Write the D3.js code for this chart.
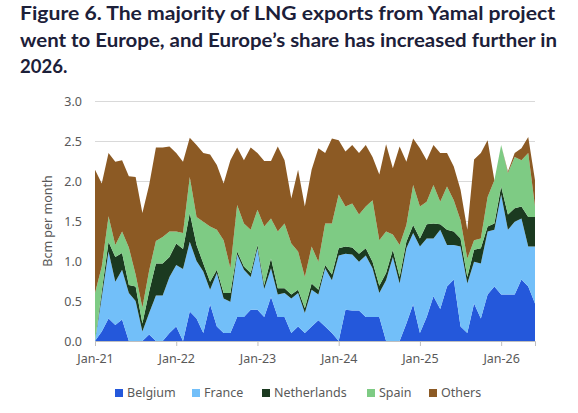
<!DOCTYPE html>
<html>
<head>
<meta charset="utf-8">
<script src="https://cdn.jsdelivr.net/npm/d3@7"></script>
<style>
  body { margin: 0; background: #fff; }
  svg { display: block; }
</style>
</head>
<body>
<script>
var width = 578,
    height = 413,
    margin = {top: 101, right: 43, bottom: 72, left: 95};

var titleLines = [
    "Figure 6. The majority of LNG exports from Yamal project",
    "went to Europe, and Europe\u2019s share has increased further in",
    "2026."
];

// monthly, Jan-21 .. Jun-26 (Bcm per month)
var seriesNames = ["Belgium", "France", "Netherlands", "Spain", "Others"];
var seriesColors = ["#2458db", "#72bff9", "#1b3a20", "#7ecb84", "#8c5a24"];
var tickLabels = ["Jan-21", "Jan-22", "Jan-23", "Jan-24", "Jan-25", "Jan-26"];
var yTicks = [0, 0.5, 1, 1.5, 2, 2.5, 3];

var belgium = [0, 0.12, 0.28, 0.2, 0.27, 0, 0, 0, 0.08, 0, 0, 0.1,
    0.18, 0, 0.37, 0.28, 0.1, 0.46, 0.18, 0.1, 0.1, 0.3, 0.3, 0.39,
    0.39, 0.3, 0.55, 0.3, 0.3, 0.1, 0.18, 0.1, 0.18, 0.26, 0.18, 0.1,
    0, 0.39, 0.38, 0.38, 0.3, 0.3, 0.3, 0, 0, 0, 0.22, 0.46,
    0.1, 0.3, 0.56, 0.4, 0.68, 0.77, 0.18, 0.1, 0.47, 0.28, 0.58, 0.68,
    0.58, 0.58, 0.58, 0.77, 0.68, 0.47];
var france = [0, 0.43, 0.84, 0.54, 0.62, 0.6, 0.5, 0.12, 0.27, 0.57, 0.57, 0.7,
    0.77, 0.9, 0.87, 0.72, 0.77, 0.18, 0.67, 0.43, 0.39, 0.78, 0.59, 0.41,
    0.77, 0.35, 0.36, 0.28, 0.3, 0.43, 0.42, 0.25, 0.46, 0.32, 0.73, 0.66,
    1.07, 0.7, 0.7, 0.61, 0.77, 0.61, 0.3, 0.76, 1.05, 0.72, 0.94, 0.89,
    1.08, 0.98, 0.72, 0.99, 0.52, 0.43, 1.0, 0.62, 0.52, 0.69, 0.79, 0.71,
    1.25, 0.81, 0.91, 0.76, 0.5, 0.71];
var netherlands = [0, 0.07, 0.12, 0.31, 0.21, 0.1, 0.18, 0.1, 0.27, 0.4, 0.4, 0.25,
    0.27, 0.25, 0.36, 0.2, 0.1, 0.1, 0.04, 0.07, 0.11, 0.04, 0.04, 0.05,
    0.04, 0.05, 0.12, 0.08, 0.06, 0.05, 0.04, 0.06, 0.08, 0.06, 0.04, 0.07,
    0.09, 0.09, 0.09, 0.1, 0.09, 0.08, 0.09, 0.09, 0.09, 0.08, 0.08, 0.1,
    0.1, 0.18, 0.19, 0.07, 0.19, 0.17, 0.1, 0.08, 0.15, 0.19, 0.06, 0.08,
    0.1, 0.19, 0.17, 0.15, 0.37, 0.37];
var spain = [0.6, 0.31, 0.32, 0.15, 0.27, 0.47, 0.15, 0.2, 0.26, 0.28, 0.33, 0.32,
    0.15, 0.2, 0.45, 0.35, 0.52, 0.69, 0.5, 0.66, 0.31, 0.58, 0.54, 0.54,
    0.44, 0.73, 0.5, 0.71, 0.81, 0.64, 0.48, 0.39, 0.46, 0.35, 0.52, 0.64,
    0.67, 0.5, 0.55, 0.49, 0.52, 0.77, 0.57, 0.52, 0.19, 0.4, 0.21, 0.5,
    0.4, 0.28, 0.48, 0.28, 0.54, 0.39, 0.23, 0.23, 0.12, 0.12, 0.37, 0.54,
    0.52, 0.52, 0.64, 0.58, 0.8, 0.13];
var others = [1.54, 1.04, 0.79, 1.04, 0.89, 0.89, 1.22, 1.18, 1.07, 1.17, 1.12, 1.06,
    0.98, 0.89, 0.49, 0.9, 0.86, 0.9, 0.81, 0.71, 1.35, 0.72, 0.79, 1.03,
    0.71, 0.82, 0.72, 1.06, 0.79, 0.56, 1.02, 0.88, 0.96, 1.42, 0.88, 1.06,
    0.68, 0.69, 0.73, 0.77, 0.77, 0.54, 0.82, 1.09, 0.83, 1.23, 0.79, 0.58,
    0.73, 0.52, 0.5, 0.61, 0.42, 0.42, 0.38, 0.36, 1.01, 1.07, 0.71, 0,
    0, 0.02, 0.05, 0.15, 0.2, 0.33];

var months = d3.timeMonth.range(new Date(2021, 0, 1), new Date(2026, 6, 1));
var fmt = d3.timeFormat("%b-%y");

var rows = months.map(function(m, i) {
    return {month: fmt(m), Belgium: belgium[i], France: france[i],
        Netherlands: netherlands[i], Spain: spain[i], Others: others[i]};
});

var svg = d3.select("body").append("svg")
    .attr("width", width)
    .attr("height", height);

// title
svg.append("g").selectAll("text")
    .data(titleLines)
    .enter().append("text")
    .attr("x", 20)
    .attr("y", function(d, i) { return 20 + i * 26.5; })
    .attr("textLength", function(d, i) { return i === 2 ? null : (i === 0 ? 535 : 537); })
    .attr("lengthAdjust", "spacingAndGlyphs")
    .style("font-family", "Lato, sans-serif")
    .style("font-weight", "bold")
    .style("font-size", "18.5px")
    .style("fill", "#1c2039")
    .text(function(d) { return d; });

var x = d3.scalePoint()
    .domain(rows.map(function(d) { return d.month; }))
    .range([margin.left, width - margin.right]);

var y = d3.scaleLinear()
    .domain([0, 3])
    .range([height - margin.bottom, margin.top]);

var stack = d3.stack().keys(seriesNames);
var layers = stack(rows);

var color = d3.scaleOrdinal().domain(seriesNames).range(seriesColors);

// gridlines
svg.append("g")
    .attr("class", "grid")
    .attr("transform", "translate(" + margin.left + ",0)")
    .call(d3.axisLeft(y).tickValues(yTicks.slice(1)).tickSize(-(width - margin.right - margin.left)).tickFormat(""))
    .call(function(g) { g.select(".domain").remove(); })
    .selectAll("line")
    .style("stroke", "#d9d9d9");

var area = d3.area()
    .x(function(d) { return x(d.data.month); })
    .y0(function(d) { return y(d[0]); })
    .y1(function(d) { return y(d[1]); });

svg.append("g").selectAll("path")
    .data(layers)
    .enter().append("path")
    .attr("d", area)
    .style("fill", function(d) { return color(d.key); });

// x axis
var xAxis = svg.append("g")
    .attr("transform", "translate(0," + y(0) + ")")
    .call(d3.axisBottom(x).tickValues(tickLabels).tickSize(5).tickPadding(8));
xAxis.select(".domain").style("stroke", "#bfbfbf");
xAxis.selectAll("line").style("stroke", "#bfbfbf");
xAxis.selectAll("text")
    .style("font-family", "'Noto Sans', sans-serif")
    .style("font-size", "12.5px")
    .style("fill", "#595959");

// y axis labels
var yAxis = svg.append("g")
    .attr("transform", "translate(" + (margin.left - 4) + ",0)")
    .call(d3.axisLeft(y).tickValues(yTicks).tickSize(0).tickPadding(9).tickFormat(d3.format(".1f")));
yAxis.select(".domain").remove();
yAxis.selectAll("text")
    .style("font-family", "'Noto Sans', sans-serif")
    .style("font-size", "12.5px")
    .style("fill", "#595959");

svg.append("text")
    .attr("transform", "translate(48," + y(1.5) + ") rotate(-90)")
    .attr("text-anchor", "middle")
    .attr("dy", "0.35em")
    .style("font-family", "'Noto Sans', sans-serif")
    .style("font-size", "12.5px")
    .style("fill", "#595959")
    .text("Bcm per month");

// legend
var legendX = [115, 192, 262, 367, 429];
var legend = svg.append("g").selectAll("g")
    .data(seriesNames)
    .enter().append("g")
    .attr("transform", function(d, i) { return "translate(" + legendX[i] + ",393)"; });

legend.append("rect")
    .attr("x", 0)
    .attr("y", -4)
    .attr("width", 8)
    .attr("height", 8)
    .style("fill", function(d) { return color(d); });

legend.append("text")
    .attr("x", 12)
    .attr("dy", "0.35em")
    .style("font-family", "'Noto Sans', sans-serif")
    .style("font-size", "12.5px")
    .style("fill", "#595959")
    .text(function(d) { return d; });
</script>
</body>
</html>
